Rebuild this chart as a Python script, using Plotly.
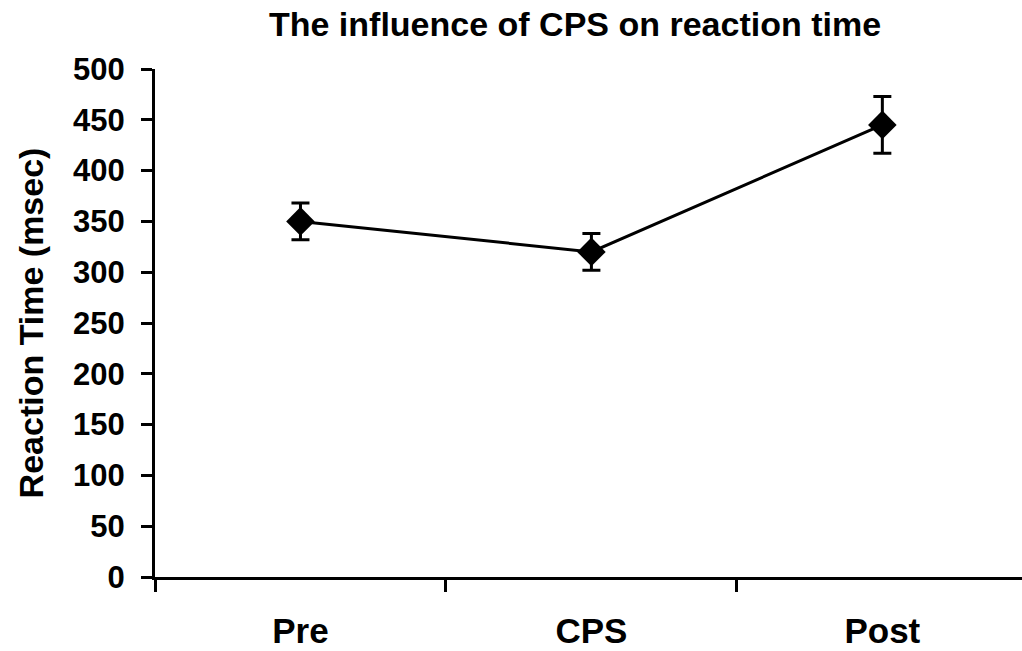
import plotly.graph_objects as go

categories = ["Pre", "CPS", "Post"]
reaction_time = [350, 320, 445]
error = [18, 18, 28]
y_ticks = [0, 50, 100, 150, 200, 250, 300, 350, 400, 450, 500]

FONT = "Liberation Sans, Arial, sans-serif"

fig = go.Figure()
fig.add_trace(go.Scatter(
    x=categories, y=reaction_time,
    mode="lines+markers",
    line=dict(color="black", width=3),
    marker=dict(symbol="diamond", size=22, color="black"),
    error_y=dict(type="data", array=error, visible=True, color="black",
                 thickness=3, width=9),
    showlegend=False,
))

fig.update_layout(
    width=1022, height=651,
    margin=dict(l=155, r=0, t=69, b=74),
    plot_bgcolor="white", paper_bgcolor="white",
    title=dict(text="The influence of CPS on reaction time",
               font=dict(family=FONT, size=34, color="black", weight="bold"),
               x=575 / 1022, xanchor="center", y=1 - 24 / 651, yanchor="middle"),
    xaxis=dict(
        type="category", range=[-0.5, 2.48], automargin=False,
        showline=True, linecolor="black", linewidth=3,
        ticks="outside", tickson="boundaries", ticklen=12, tickwidth=3, tickcolor="black",
        showgrid=False, zeroline=False,
        tickfont=dict(family=FONT, size=35, color="black", weight="bold"),
        ticklabelstandoff=21,
    ),
    yaxis=dict(
        range=[0, 500], tickvals=y_ticks, automargin=False,
        showline=True, linecolor="black", linewidth=3,
        ticks="outside", ticklen=11, tickwidth=3, tickcolor="black",
        showgrid=False, zeroline=False,
        tickfont=dict(family=FONT, size=31, color="black", weight="bold"),
        ticklabelstandoff=10,
        title=dict(text="Reaction Time (msec)",
                   font=dict(family=FONT, size=34, color="black", weight="bold"),
                   standoff=20),
    ),
)

fig.write_html("out.html", config={"displayModeBar": False},
               post_script="document.body.style.margin='0';")
